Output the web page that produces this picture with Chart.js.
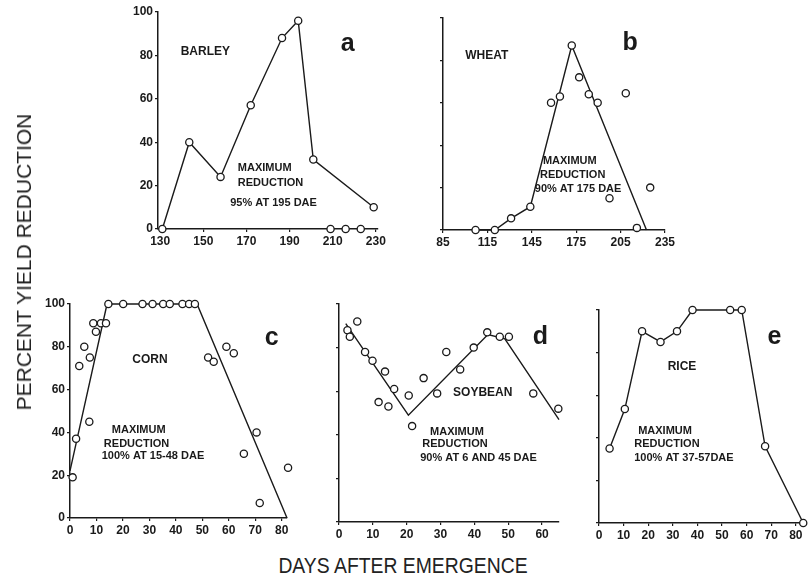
<!DOCTYPE html>
<html><head><meta charset="utf-8">
<script src="https://cdn.jsdelivr.net/npm/chart.js@4"></script>
<style>
body{margin:0;background:#fff;}
#wrap{position:relative;width:811px;height:582px;overflow:hidden;background:#fff;}
canvas{position:absolute;}
.t{position:absolute;font-family:"Liberation Sans",Arial,sans-serif;color:#222;white-space:nowrap;}
</style></head><body>
<div id="wrap">
<canvas id="ca"></canvas><canvas id="cb"></canvas><canvas id="cc"></canvas><canvas id="cd"></canvas><canvas id="ce"></canvas>
<div class="t" id="ylab" style="left:24px;top:262px;font-size:21px;transform:translate(-50%,-50%) rotate(-90deg);">PERCENT YIELD REDUCTION</div>
<div class="t" id="xlab" style="left:403px;top:566px;font-size:22px;transform:translate(-50%,-50%) scaleX(0.88);">DAYS AFTER EMERGENCE</div>
</div>
<script>
// ---- data ----
const barleyX = [131, 143.5, 158, 172, 186.5, 194, 201, 229];
const barleyY = [0, 40, 24, 57, 88, 96, 32, 10];
const barleyZeroX = [209, 216, 223];
const barleyZeroY = [0, 0, 0];

const wheatX = [107, 120, 131, 144, 158, 164, 172, 177, 183.5, 189.5, 197.5, 208.5, 216, 225];
const wheatY = [0, 0, 5.5, 11, 60, 63, 87, 72, 64, 60, 15, 64.5, 1, 20];
const wheatFitX = [107, 120, 131, 144, 172, 222.5];
const wheatFitY = [0, 0, 5.5, 11, 87, 0];

const cornX = [1, 2.3, 3.5, 5.4, 7.5, 7.3, 8.8, 9.8, 11.7, 13.6, 14.5, 20.1, 27.4, 31.2, 35.2, 37.7, 42.5, 45, 47.2, 52.2, 54.3, 59.1, 61.9, 65.7, 70.5, 71.7, 82.4];
const cornY = [19, 37, 71, 80, 75, 45, 91, 87, 91, 91, 100, 100, 100, 100, 100, 100, 100, 100, 100, 75, 73, 80, 77, 30, 40, 7, 23.5];
const cornFitX = [0, 14, 48, 82];
const cornFitY = [22, 100, 100, 0];

const soyX = [2.5, 3.2, 5.4, 7.7, 9.9, 11.7, 13.6, 14.6, 16.3, 20.6, 21.6, 25, 29, 31.7, 35.8, 39.8, 43.8, 47.5, 50.2, 57.4, 64.8];
const soyY = [88, 85, 92, 78, 74, 55, 69, 53, 61, 58, 44, 66, 59, 78, 70, 80, 87, 85, 85, 59, 52];
const soyFitX = [2, 20.5, 44, 49, 65];
const soyFitY = [91, 49, 86, 84, 47];

const riceX = [4.3, 10.5, 17.5, 25, 31.7, 38, 53.3, 58, 67.5, 83];
const riceY = [35, 53.5, 90, 85, 90, 100, 100, 100, 36, 0];

const yTicks = [0, 20, 40, 60, 80, 100];
const xTicksA = [130, 150, 170, 190, 210, 230];
const xTicksB = [85, 115, 145, 175, 205, 235];
const xTicksC = [0, 10, 20, 30, 40, 50, 60, 70, 80];
const xTicksD = [0, 10, 20, 30, 40, 50, 60];
const xTicksE = [0, 10, 20, 30, 40, 50, 60, 70, 80];

const zip = (xs, ys) => xs.map((x, i) => ({x, y: ys[i]}));

// ---- styling ----
const INK = '#1a1a1a';
const FONT = '"Liberation Sans", Arial, sans-serif';
const smallF = 'bold 11px ' + FONT;
const nameF = 'bold 12px ' + FONT;
const letterF = 'bold 25px ' + FONT;

const textPlugin = {
  id: 'panelText',
  afterDatasetsDraw(chart, args, opts) {
    const ctx = chart.ctx, xs = chart.scales.x, ys = chart.scales.y;
    (opts.items || []).forEach(it => {
      ctx.save();
      ctx.font = it.font; ctx.fillStyle = INK;
      ctx.textAlign = it.align || 'left'; ctx.textBaseline = 'middle';
      ctx.fillText(it.text, xs.getPixelForValue(it.x), ys.getPixelForValue(it.y));
      ctx.restore();
    });
  }
};

function pointsDS(data) {
  return {type: 'scatter', data, showLine: false, pointRadius: 3.6, pointBorderWidth: 1.3,
    pointBackgroundColor: '#fff', pointBorderColor: INK, clip: false, order: 1};
}
function lineDS(data) {
  return {type: 'scatter', data, showLine: true, pointRadius: 0, borderColor: INK,
    borderWidth: 1.4, tension: 0, clip: false, order: 2};
}
function connectedDS(data) {
  return {type: 'scatter', data, showLine: true, pointRadius: 3.6, pointBorderWidth: 1.3,
    pointBackgroundColor: '#fff', pointBorderColor: INK, borderColor: INK, borderWidth: 1.4,
    tension: 0, clip: false, order: 1};
}

function makePanel(p) {
  const cv = document.getElementById(p.id);
  cv.width = p.w; cv.height = p.h;
  cv.style.left = p.left + 'px'; cv.style.top = p.top + 'px';
  cv.style.width = p.w + 'px'; cv.style.height = p.h + 'px';
  new Chart(cv, {
    type: 'scatter',
    data: {datasets: p.datasets},
    plugins: [textPlugin],
    options: {
      responsive: false, animation: false, devicePixelRatio: 1,
      layout: {padding: {top: p.padT, right: p.padR, left: 0, bottom: 0}},
      plugins: {legend: {display: false}, tooltip: {enabled: false}, panelText: {items: p.texts}},
      scales: {
        x: {
          type: 'linear', min: p.xmin, max: p.xmax,
          afterBuildTicks: s => { s.ticks = p.xticks.map(v => ({value: v})); },
          afterFit: s => { s.height = p.xH; },
          border: {display: true, color: INK, width: 1.5},
          grid: {display: true, drawOnChartArea: false, drawTicks: true, tickLength: 3, color: INK, lineWidth: 1.2},
          ticks: {autoSkip: false, maxRotation: 0, padding: 2, color: INK, font: {family: FONT, size: 12, weight: 'bold'}}
        },
        y: {
          type: 'linear', min: 0, max: 100,
          afterBuildTicks: s => { s.ticks = yTicks.map(v => ({value: v})); },
          afterFit: s => { s.width = p.yW; },
          border: {display: true, color: INK, width: 1.5},
          grid: {display: true, drawOnChartArea: false, drawTicks: true, tickLength: 3, color: INK, lineWidth: 1.2},
          ticks: {display: p.yLabels, padding: 2, color: INK, font: {family: FONT, size: 12, weight: 'bold'}}
        }
      }
    }
  });
}

makePanel({id: 'ca', left: 100, top: 0, w: 290, h: 249, yW: 58, xH: 20, padT: 12, padR: 12,
  xmin: 129, xmax: 231, xticks: xTicksA, yLabels: true,
  datasets: [connectedDS(zip(barleyX, barleyY)), pointsDS(zip(barleyZeroX, barleyZeroY))],
  texts: [
    {text: 'a', x: 217, y: 85, align: 'center', font: letterF},
    {text: 'BARLEY', x: 139.5, y: 81.5, font: nameF},
    {text: 'MAXIMUM', x: 166, y: 28, font: smallF},
    {text: 'REDUCTION', x: 166, y: 21, font: smallF},
    {text: '95% AT 195 DAE', x: 162.5, y: 12, font: smallF}
  ]});

makePanel({id: 'cb', left: 400, top: 0, w: 280, h: 250, yW: 43, xH: 20, padT: 18, padR: 15,
  xmin: 85, xmax: 235, xticks: xTicksB, yLabels: false,
  datasets: [lineDS(zip(wheatFitX, wheatFitY)), pointsDS(zip(wheatX, wheatY))],
  texts: [
    {text: 'b', x: 211.5, y: 88, align: 'center', font: letterF},
    {text: 'WHEAT', x: 100, y: 82, font: nameF},
    {text: 'MAXIMUM', x: 152.5, y: 32.5, font: smallF},
    {text: 'REDUCTION', x: 150.5, y: 26, font: smallF},
    {text: '90% AT 175 DAE', x: 147, y: 19.3, font: smallF}
  ]});

makePanel({id: 'cc', left: 0, top: 280, w: 300, h: 260, yW: 70, xH: 22, padT: 24, padR: 13,
  xmin: 0, xmax: 82, xticks: xTicksC, yLabels: true,
  datasets: [lineDS(zip(cornFitX, cornFitY)), pointsDS(zip(cornX, cornY))],
  texts: [
    {text: 'c', x: 76.2, y: 84, align: 'center', font: letterF},
    {text: 'CORN', x: 30.2, y: 73.8, align: 'center', font: nameF},
    {text: 'MAXIMUM', x: 15.8, y: 41.1, font: smallF},
    {text: 'REDUCTION', x: 12.8, y: 34.6, font: smallF},
    {text: '100% AT 15-48 DAE', x: 12, y: 29, font: smallF}
  ]});

makePanel({id: 'cd', left: 300, top: 280, w: 270, h: 264, yW: 39, xH: 22, padT: 24, padR: 11,
  xmin: 0, xmax: 65, xticks: xTicksD, yLabels: false,
  datasets: [lineDS(zip(soyFitX, soyFitY)), pointsDS(zip(soyX, soyY))],
  texts: [
    {text: 'd', x: 59.5, y: 85, align: 'center', font: letterF},
    {text: 'SOYBEAN', x: 33.7, y: 59.2, font: nameF},
    {text: 'MAXIMUM', x: 26.9, y: 41.3, font: smallF},
    {text: 'REDUCTION', x: 24.6, y: 35.8, font: smallF},
    {text: '90% AT 6 AND 45 DAE', x: 24, y: 29.4, font: smallF}
  ]});

makePanel({id: 'ce', left: 570, top: 280, w: 241, h: 265, yW: 29, xH: 22, padT: 30, padR: 1,
  xmin: 0, xmax: 84, xticks: xTicksE, yLabels: false,
  datasets: [connectedDS(zip(riceX, riceY))],
  texts: [
    {text: 'e', x: 71.3, y: 87.3, align: 'center', font: letterF},
    {text: 'RICE', x: 27.9, y: 73.2, font: nameF},
    {text: 'MAXIMUM', x: 15.9, y: 43.2, font: smallF},
    {text: 'REDUCTION', x: 14.3, y: 37.1, font: smallF},
    {text: '100% AT 37-57DAE', x: 14.3, y: 30.5, font: smallF}
  ]});
</script>
</body></html>
